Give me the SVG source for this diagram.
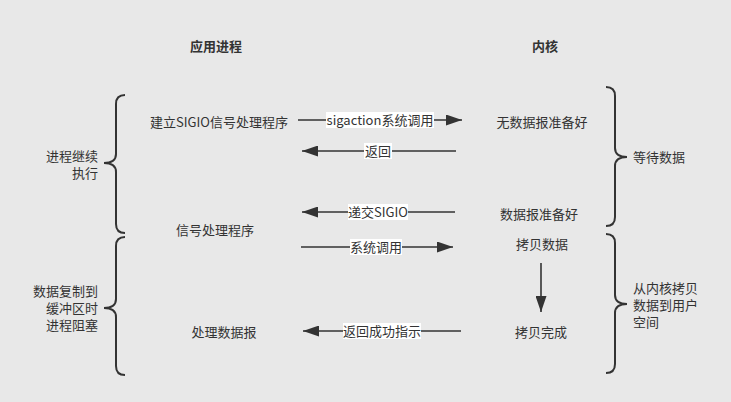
<svg xmlns="http://www.w3.org/2000/svg" width="731" height="402" viewBox="0 0 731 402">
<defs>
<style>
text{font-family:"Noto Sans CJK SC","Noto Sans",sans-serif;font-size:13px;fill:#333}
text.ml{font-family:"Liberation Sans","Noto Sans CJK SC",sans-serif}
.b{font-weight:bold}
.m{text-anchor:middle}
.r{text-anchor:end}
.ln{stroke:#333;stroke-width:1.6;fill:none}
.br{stroke:#333;stroke-width:2;fill:none}
.lb{fill:#fff}
</style>
<marker id="ah2" viewBox="0 0 10 10" refX="10" refY="5" markerWidth="16" markerHeight="11" markerUnits="userSpaceOnUse" orient="auto" preserveAspectRatio="none">
<path d="M0,0 L10,5 L0,10 z" fill="#333"/>
</marker>
</defs>
<rect width="731" height="402" fill="#e8e8e8"/>
<g id="headers">
<text class="b m" x="216" y="51">应用进程</text>
<text class="b m" x="545" y="51">内核</text>
</g>
<g id="app-setup"><text class="m" x="219" y="127">建立SIGIO信号处理程序</text></g>
<g id="app-handler"><text class="m" x="215" y="235">信号处理程序</text></g>
<g id="app-process"><text class="m" x="224" y="337">处理数据报</text></g>
<g id="k-nodata"><text class="m" x="542" y="127">无数据报准备好</text></g>
<g id="k-ready"><text class="m" x="539" y="219">数据报准备好</text></g>
<g id="k-copy"><text class="m" x="542" y="249">拷贝数据</text></g>
<g id="k-done"><text class="m" x="541" y="337">拷贝完成</text></g>
<g id="brace-left-1">
<path class="br" d="M125,95 Q116,95 116,104 L116,154 Q116,163 104,163 Q116,163 116,172 L116,224 Q116,233 125,233"/>
<text class="r ml" x="98" y="161">进程继续</text>
<text class="r ml" x="98" y="178">执行</text>
</g>
<g id="brace-left-2">
<path class="br" d="M125,237 Q116,237 116,246 L116,299 Q116,308 104,308 Q116,308 116,317 L116,366 Q116,375 125,375"/>
<text class="r ml" x="98" y="296">数据复制到</text>
<text class="r ml" x="98" y="313">缓冲区时</text>
<text class="r ml" x="98" y="330">进程阻塞</text>
</g>
<g id="brace-right-1">
<path class="br" d="M606,87 Q615,87 615,96 L615,148 Q615,157 627,157 Q615,157 615,166 L615,217 Q615,226 606,226"/>
<text x="633" y="162">等待数据</text>
</g>
<g id="brace-right-2">
<path class="br" d="M606,234 Q615,234 615,243 L615,295 Q615,304 627,304 Q615,304 615,313 L615,364 Q615,373 606,373"/>
<text class="ml" x="633" y="293">从内核拷贝</text>
<text class="ml" x="633" y="310">数据到用户</text>
<text class="ml" x="633" y="327">空间</text>
</g>
<g id="connectors">
<line class="ln" x1="298" y1="120" x2="462" y2="120" marker-end="url(#ah2)"/>
<rect class="lb" x="326" y="112" width="108" height="16"/>
<text class="m" x="380" y="125">sigaction系统调用</text>
<line class="ln" x1="456" y1="151" x2="302" y2="151" marker-end="url(#ah2)"/>
<rect class="lb" x="364" y="143" width="28" height="16"/>
<text class="m" x="378" y="156">返回</text>
<line class="ln" x1="455" y1="212" x2="302" y2="212" marker-end="url(#ah2)"/>
<rect class="lb" x="348" y="204" width="60" height="16"/>
<text class="m" x="378" y="217">递交SIGIO</text>
<line class="ln" x1="301" y1="247" x2="453" y2="247" marker-end="url(#ah2)"/>
<rect class="lb" x="350" y="239" width="52" height="16"/>
<text class="m" x="376" y="252">系统调用</text>
<line class="ln" x1="461" y1="331" x2="303" y2="331" marker-end="url(#ah2)"/>
<rect class="lb" x="343" y="323" width="78" height="16"/>
<text class="m" x="382" y="336">返回成功指示</text>
<line class="ln" x1="541" y1="263" x2="541" y2="312" marker-end="url(#ah2)"/>
</g>
</svg>
